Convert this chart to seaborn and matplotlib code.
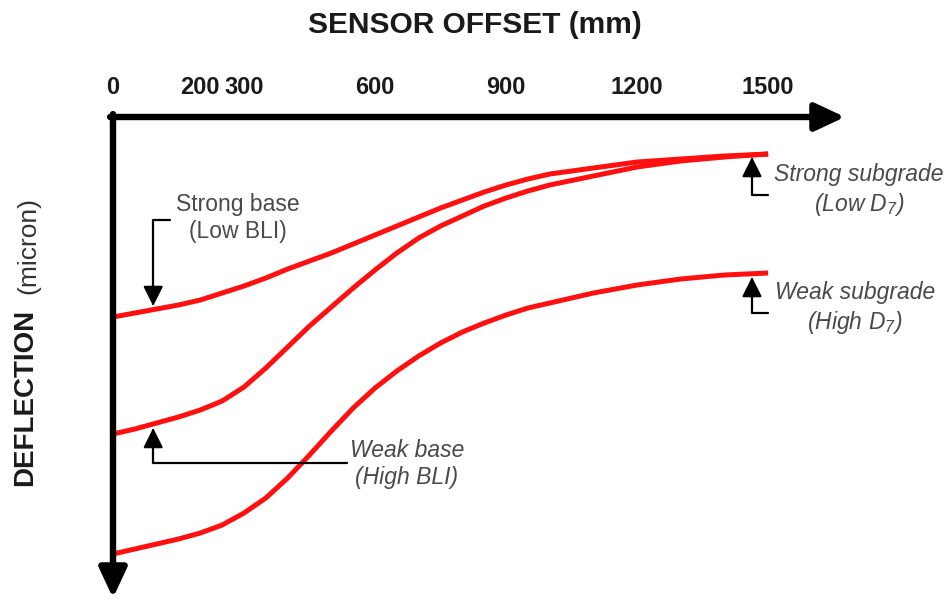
import numpy as np
import pandas as pd
import matplotlib
matplotlib.use("Agg")
import matplotlib.pyplot as plt
import seaborn as sns

# センサー位置 (mm)
offset_mm = [0, 50, 100, 150, 200, 250, 300, 350, 400, 450, 500, 550, 600, 650,
             700, 750, 800, 850, 900, 950, 1000, 1100, 1200, 1300, 1400, 1500]

# たわみ (図から読み取った相対値)
strong_base_strong_sub = [200, 196, 192, 188, 183, 176, 169, 161, 152, 144, 136, 127, 118, 109,
                          100, 91, 83, 75, 68, 62, 57, 51, 45, 42, 39, 37]
weak_base_strong_sub = [317, 312, 306, 300, 293, 284, 270, 251, 230, 209, 190, 171, 153, 136,
                        121, 109, 99, 89, 81, 74, 68, 59, 50, 44, 40, 37]
weak_base_weak_sub = [437, 432, 427, 422, 416, 408, 396, 381, 361, 338, 314, 291, 271, 254,
                      239, 226, 215, 206, 198, 191, 186, 176, 168, 162, 158, 156]

tick_values = [0, 200, 300, 600, 900, 1200, 1500]
tick_labels = ["0", "200", "300", "600", "900", "1200", "1500"]

sns.set_theme(style="white")
plt.rcParams["font.family"] = ["Liberation Sans", "DejaVu Sans"]
plt.rcParams["mathtext.fontset"] = "custom"
plt.rcParams["mathtext.rm"] = "Liberation Sans:italic"
plt.rcParams["mathtext.it"] = "Liberation Sans:italic"

df = pd.concat([
    pd.DataFrame({"offset": offset_mm, "deflection": strong_base_strong_sub, "curve": "A"}),
    pd.DataFrame({"offset": offset_mm, "deflection": weak_base_strong_sub, "curve": "B"}),
    pd.DataFrame({"offset": offset_mm, "deflection": weak_base_weak_sub, "curve": "C"}),
])

fig = plt.figure(figsize=(9.5, 6), dpi=100)
ax = fig.add_axes([113 / 950, 2 / 600, 732 / 950, 481 / 600])

sns.lineplot(data=df, x="offset", y="deflection", hue="curve",
             palette=["#ff1010"] * 3, linewidth=3.6, legend=False, ax=ax,
             solid_capstyle="butt", solid_joinstyle="round")

ax.set_xlim(0, 1676)
ax.set_ylim(481, 0)
for s in ax.spines.values():
    s.set_visible(False)
ax.set_xlabel("")
ax.set_ylabel("")
ax.set_yticks([])
ax.xaxis.tick_top()
ax.set_xticks(tick_values)
ax.set_xticklabels(tick_labels, fontsize=17, fontweight="bold", color="#1a1a1a")
ax.tick_params(axis="x", length=0, pad=13)

# 軸の矢印
arrow_kw = dict(arrowstyle="-|>,head_length=0.9,head_width=0.42", lw=4.6,
                color="black", shrinkA=0, shrinkB=0, mutation_scale=20)
ax.annotate("", xy=(1, 1), xytext=(-0.004, 1), xycoords="axes fraction",
            arrowprops=arrow_kw, annotation_clip=False)
ax.annotate("", xy=(0, 0), xytext=(0, 1.006), xycoords="axes fraction",
            arrowprops=arrow_kw, annotation_clip=False)

# 注記
lead_kw = dict(arrowstyle="-|>,head_length=0.6,head_width=0.3", lw=1.6,
               color="black", shrinkA=0, shrinkB=0, mutation_scale=20,
               connectionstyle="angle,angleA=0,angleB=90,rad=0")
note_col = "#4a4a4a"

ax.annotate("", xy=(92, 189), xytext=(131, 103), arrowprops=lead_kw, annotation_clip=False)
ax.text(286, 101, "Strong base\n(Low BLI)", ha="center", va="center",
        fontsize=16.5, color=note_col, linespacing=1.25)

ax.annotate("", xy=(92, 311), xytext=(536, 346), arrowprops=lead_kw, annotation_clip=False)
ax.text(673, 347, "Weak base\n(High BLI)", ha="center", va="center",
        fontsize=16.5, color=note_col, style="italic", linespacing=1.25)

ax.annotate("", xy=(1463, 40), xytext=(1500, 78), arrowprops=lead_kw, annotation_clip=False)
ax.text(1708, 73, "Strong subgrade\n(Low D$_7$)", ha="center", va="center",
        fontsize=16.5, color=note_col, style="italic", linespacing=1.25, clip_on=False)

ax.annotate("", xy=(1463, 160), xytext=(1500, 196), arrowprops=lead_kw, annotation_clip=False)
ax.text(1699, 191, "Weak subgrade\n(High D$_7$)", ha="center", va="center",
        fontsize=16.5, color=note_col, style="italic", linespacing=1.25, clip_on=False)

# 軸タイトル
fig.text(0.5, 1 - 25 / 600, "SENSOR OFFSET (mm)", ha="center", va="center",
         fontsize=21.5, fontweight="bold", color="#1a1a1a")
fig.text(25 / 950, 1 - 397 / 600, "DEFLECTION", rotation=90, ha="center", va="center",
         fontsize=20, fontweight="bold", color="#1a1a1a")
fig.text(28 / 950, 1 - 245 / 600, "(micron)", rotation=90, ha="center", va="center",
         fontsize=19, color="#333333")

fig.savefig("out.png", dpi=100)
